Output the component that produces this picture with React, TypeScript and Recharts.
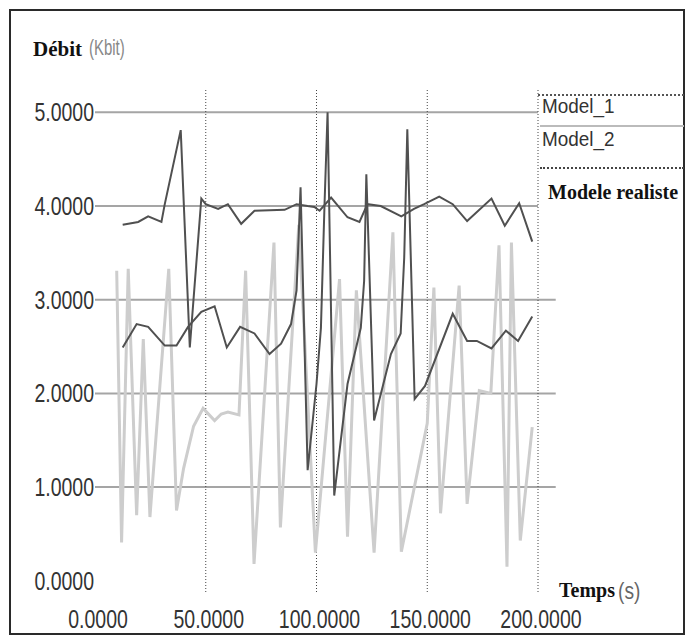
import { LineChart, Line, XAxis, YAxis, ReferenceLine } from "recharts";

// [time (s), throughput (Kbit)]
const MODEL_1: [number, number][] = [
  [12.5, 3.8], [19.5, 3.83], [24, 3.89], [30, 3.83], [31.5, 4.02], [38.7, 4.81],
  [42.8, 2.49], [48, 4.08], [50, 4.02], [55.6, 3.97], [60, 4.02], [66, 3.81],
  [72, 3.95], [85.6, 3.96], [91, 4.02], [96, 4.0], [99, 3.99], [101.4, 3.95],
  [106.6, 4.09], [114, 3.88], [119.4, 3.83], [123, 4.02], [129, 4.0], [138.3, 3.89],
  [144, 3.97], [148.6, 4.02], [155.4, 4.1], [161.5, 4.02], [168, 3.84], [179, 4.08],
  [185, 3.79], [191.5, 4.03], [197.4, 3.62],
];

const MODEL_2: [number, number][] = [
  [12.5, 2.49], [18.8, 2.74], [24, 2.71], [31.5, 2.51], [36.8, 2.51], [42, 2.71],
  [48, 2.87], [54, 2.93], [59.5, 2.49], [65.5, 2.71], [72, 2.64], [78.8, 2.42],
  [84, 2.53], [88.5, 2.74], [91, 3.1], [92.8, 4.2], [96, 1.18], [100, 2.1],
  [102, 2.7], [103.6, 4.0], [105, 5.0], [108, 0.91], [114, 2.1], [120, 2.7],
  [121.5, 3.2], [122.5, 4.34], [126, 1.71], [133.6, 2.42], [138, 2.64], [139.6, 3.45],
  [141, 4.82], [144.3, 1.94], [149, 2.08], [161.5, 2.85], [168, 2.56], [172.4, 2.56],
  [179, 2.48], [185.5, 2.67], [191, 2.56], [197.4, 2.82],
];

const REALISTE: [number, number][] = [
  [9.8, 3.31], [12, 0.41], [15, 3.33], [18.8, 0.7], [21.8, 2.58], [24.8, 0.68],
  [33.3, 3.33], [36.8, 0.75], [40, 1.2], [44.5, 1.65], [48.8, 1.84], [54, 1.71],
  [57, 1.78], [60, 1.8], [65, 1.77], [68, 3.31], [71.8, 0.18], [80.8, 3.61],
  [83.7, 0.57], [92, 3.8], [99.5, 0.3], [110.4, 3.22], [114, 0.47], [118, 3.1],
  [126, 0.3], [134.5, 3.72], [138.3, 0.31], [150, 1.68], [153, 3.13], [156, 0.72],
  [164.4, 3.15], [168, 0.82], [173.5, 2.03], [178.7, 2.0], [182.4, 3.58], [186, 0.15],
  [188, 3.61], [192, 0.43], [197.4, 1.64],
];

const X_TICKS = [0, 50, 100, 150, 200];
const Y_TICKS = [0, 1, 2, 3, 4, 5];
const V_GRID = [50, 100, 150, 200];
const H_GRID_LONG = [1, 2, 3];
const H_GRID_SHORT = [4, 5];

const SANS = "'Liberation Sans', Arial, sans-serif";
const SERIF = "'Liberation Serif', 'DejaVu Serif', serif";

const toRows = (pts: [number, number][]) => pts.map(([t, v]) => ({ t, v }));

const fmt = (v: number) => v.toFixed(4);

// the scanned labels use a tall narrow face, so squeeze Liberation Sans
function YTick({ x, y, payload }: any) {
  return (
    <g transform={`translate(${x},${y}) scale(0.78,1)`}>
      <text textAnchor="end" y={9} fontSize={25} fontFamily={SANS} fill="#333">
        {fmt(payload.value)}
      </text>
    </g>
  );
}

function XTick({ x, y, payload }: any) {
  return (
    <g transform={`translate(${x + 3},${y}) scale(0.78,1)`}>
      <text textAnchor="middle" y={36} fontSize={25} fontFamily={SANS} fill="#333">
        {fmt(payload.value)}
      </text>
    </g>
  );
}

const squeeze = (s: number): any => ({ transform: `scaleX(${s})`, transformOrigin: "0 0" });

function LegendBox() {
  return (
    <div style={{ position: "absolute", left: 530, top: 80, width: 148, height: 130 }}>
      <div style={{ position: "absolute", left: 0, top: 6, width: 146, borderTop: "2px dotted #555" }} />
      <div style={{ position: "absolute", left: 4, top: 7, fontFamily: SANS, fontSize: 21, lineHeight: 1, color: "#333", ...squeeze(0.9) }}>
        Model_1
      </div>
      <div style={{ position: "absolute", left: 2, top: 37, width: 144, borderTop: "2px solid #bbb" }} />
      <div style={{ position: "absolute", left: 4, top: 40, fontFamily: SANS, fontSize: 21, lineHeight: 1, color: "#333", ...squeeze(0.9) }}>
        Model_2
      </div>
      <div style={{ position: "absolute", left: 2, top: 79, width: 144, borderTop: "2px dotted #444" }} />
      <div
        style={{
          position: "absolute", left: 10, top: 94, fontFamily: SERIF, fontWeight: "bold",
          fontSize: 20, lineHeight: 1, color: "#111", whiteSpace: "nowrap",
        }}
      >
        Modele realiste
      </div>
    </div>
  );
}

export default function App() {
  return (
    <div style={{ position: "relative", width: 681, height: 628, overflow: "hidden" }}>
      <div
        style={{
          position: "absolute", left: 1, top: 1, width: 676, height: 626,
          border: "2px solid #2a2a2a", boxSizing: "border-box",
        }}
      />
      <div style={{ position: "absolute", left: 0, top: 0 }}>
        <LineChart width={681} height={625} margin={{ top: 80, right: 151, bottom: 0, left: 0 }}>
          <XAxis
            dataKey="t"
            type="number"
            domain={[0, 200]}
            ticks={X_TICKS}
            axisLine={false}
            tickLine={false}
            tickSize={0}
            tickMargin={0}
            height={41}
            interval={0}
            allowDataOverflow
            tick={<XTick />}
          />
          <YAxis
            type="number"
            domain={[-0.12, 5.26]}
            ticks={Y_TICKS}
            axisLine={false}
            tickLine={false}
            tickSize={0}
            tickMargin={1}
            width={87}
            interval={0}
            allowDataOverflow
            tick={<YTick />}
          />
          {H_GRID_LONG.map((y) => (
            <ReferenceLine
              key={`hl${y}`}
              segment={[{ x: 0, y }, { x: 208, y }]}
              ifOverflow="visible"
              stroke="#a5a5a5"
              strokeWidth={2}
            />
          ))}
          {H_GRID_SHORT.map((y) => (
            <ReferenceLine
              key={`hs${y}`}
              segment={[{ x: 0, y }, { x: 200, y }]}
              ifOverflow="visible"
              stroke="#a5a5a5"
              strokeWidth={2}
            />
          ))}
          {V_GRID.map((x) => (
            <ReferenceLine key={`v${x}`} x={x} stroke="#444" strokeDasharray="1 2" />
          ))}
          <Line
            data={toRows(REALISTE)}
            dataKey="v"
            name="Modele realiste"
            stroke="#cdcdcd"
            strokeWidth={3}
            dot={false}
            isAnimationActive={false}
          />
          <Line
            data={toRows(MODEL_2)}
            dataKey="v"
            name="Model_2"
            stroke="#505050"
            strokeWidth={2}
            dot={false}
            isAnimationActive={false}
          />
          <Line
            data={toRows(MODEL_1)}
            dataKey="v"
            name="Model_1"
            stroke="#505050"
            strokeWidth={2}
            dot={false}
            isAnimationActive={false}
          />
        </LineChart>
      </div>
      <LegendBox />
      <div style={{ position: "absolute", left: 25, top: 31, fontFamily: SERIF, fontWeight: "bold", fontSize: 21, lineHeight: 1, color: "#111" }}>
        Débit
      </div>
      <div style={{ position: "absolute", left: 81, top: 29, fontFamily: SANS, fontSize: 22, lineHeight: 1, color: "#888", ...squeeze(0.68) }}>
        (Kbit)
      </div>
      <div style={{ position: "absolute", left: 551, top: 572, fontFamily: SERIF, fontWeight: "bold", fontSize: 20, lineHeight: 1, color: "#111" }}>
        Temps
      </div>
      <div style={{ position: "absolute", left: 610, top: 571, fontFamily: SANS, fontSize: 24, lineHeight: 1, color: "#666", ...squeeze(0.8) }}>
        (s)
      </div>
    </div>
  );
}
